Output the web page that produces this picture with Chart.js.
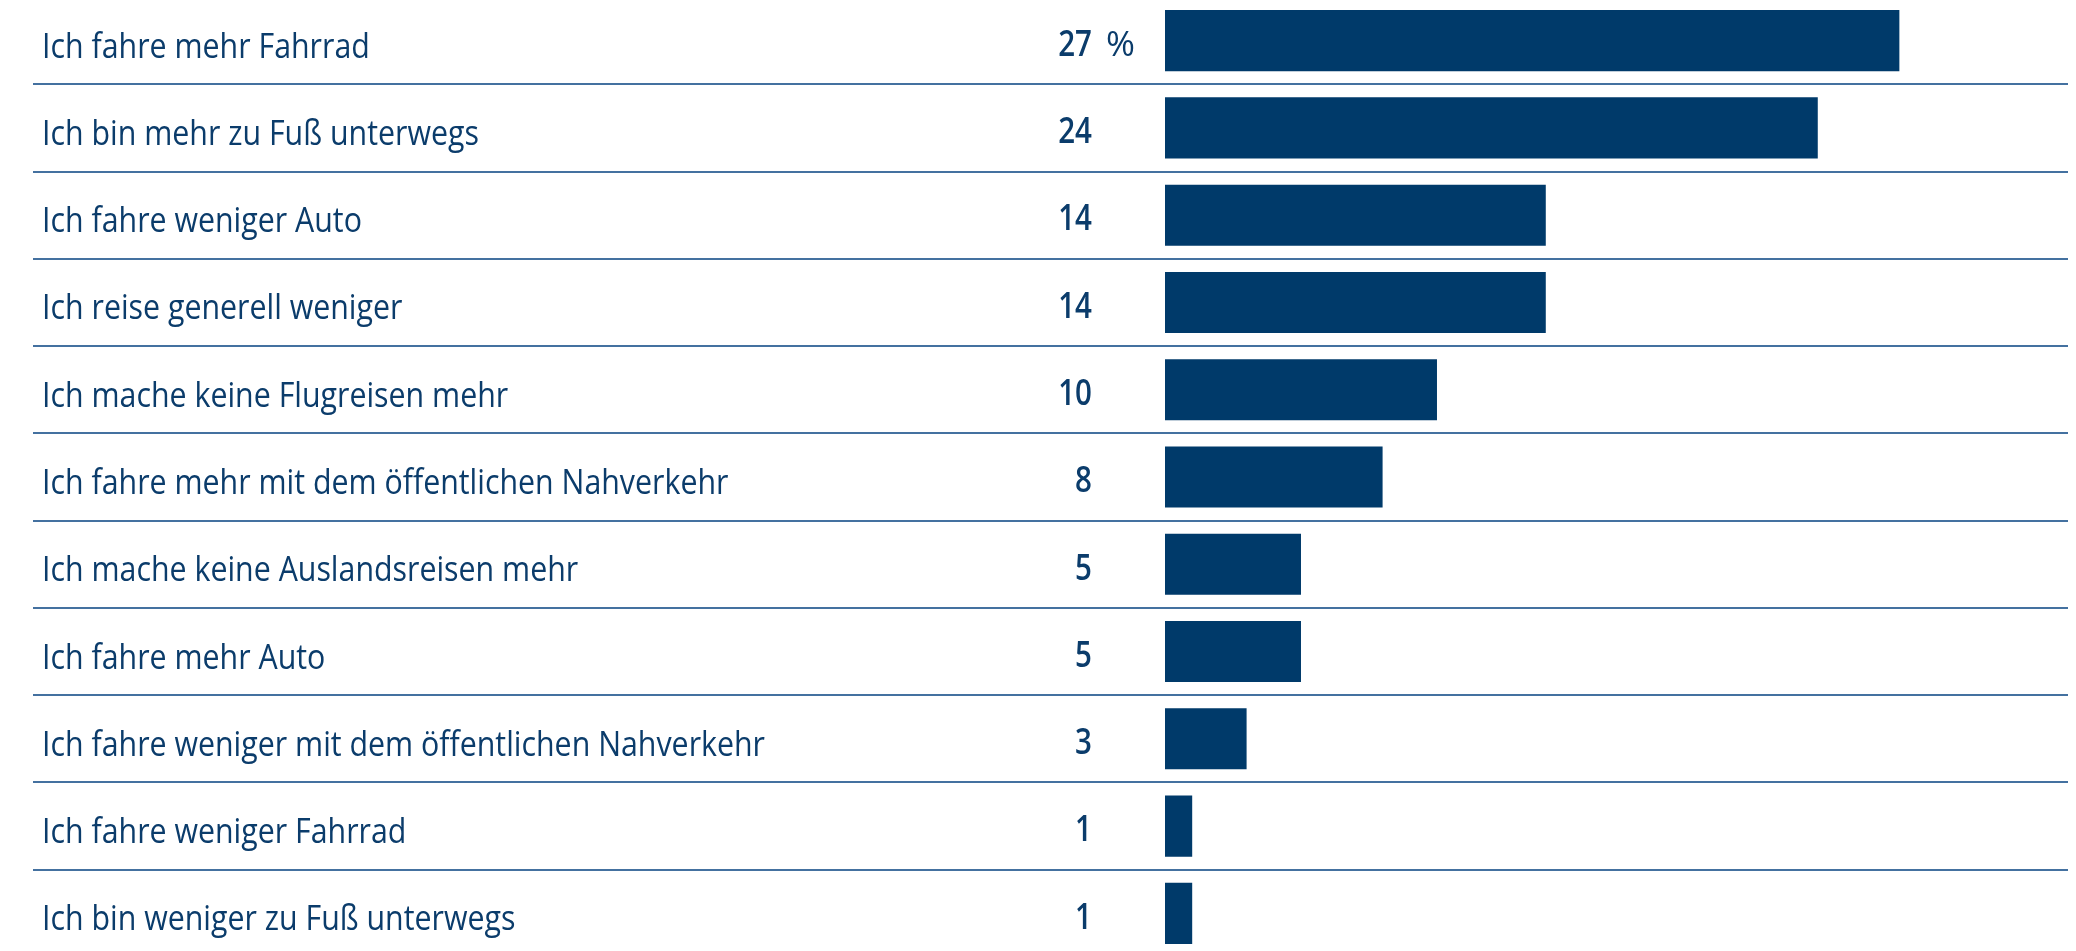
<!DOCTYPE html>
<html>
<head>
<meta charset="utf-8">
<script src="https://cdn.jsdelivr.net/npm/chart.js@4/dist/chart.umd.min.js"></script>
<style>
  html, body { margin: 0; padding: 0; background: #ffffff; overflow: hidden; width: 2076px; height: 951px; }
  #wrap { position: absolute; left: 0; top: -3px; width: 2076px; height: 960px; }
  canvas { display: block; }
</style>
</head>
<body>
<div id="wrap"><canvas id="c" width="2076" height="960"></canvas></div>
<script>
const categories = [
  "Ich fahre mehr Fahrrad",
  "Ich bin mehr zu Fuß unterwegs",
  "Ich fahre weniger Auto",
  "Ich reise generell weniger",
  "Ich mache keine Flugreisen mehr",
  "Ich fahre mehr mit dem öffentlichen Nahverkehr",
  "Ich mache keine Auslandsreisen mehr",
  "Ich fahre mehr Auto",
  "Ich fahre weniger mit dem öffentlichen Nahverkehr",
  "Ich fahre weniger Fahrrad",
  "Ich bin weniger zu Fuß unterwegs"
];
const values = [27, 24, 14, 14, 10, 8, 5, 5, 3, 1, 1];
const unitLabel = "%";

const FONT = "'Open Sans', 'Noto Sans', sans-serif";
const LABEL_SIZE = 35;
const VALUE_SIZE = 36;
const TEXT_COLOR = "#0b3c6b";
const BAR_COLOR = "#003a6a";
const LINE_COLOR = "#4471a0";
const LABEL_TARGET_WIDTH = 723;   // width of the longest label in the reference
const LABEL_LEFT = 42;

// horizontally condense text (reference uses a condensed typeface)
function labelScaleX(ctx) {
  ctx.save();
  ctx.font = LABEL_SIZE + "px " + FONT;
  let w = 0;
  categories.forEach(c => { w = Math.max(w, ctx.measureText(c).width); });
  ctx.restore();
  return LABEL_TARGET_WIDTH / w;
}

const condenseLabels = {
  id: 'condenseLabels',
  afterLayout(chart) {
    const scale = chart.scales.y;
    if (scale._condensed) return;
    scale._condensed = true;
    const orig = scale.drawLabels.bind(scale);
    scale.drawLabels = function (area) {
      const ctx = chart.ctx;
      const sx = labelScaleX(ctx);
      ctx.save();
      ctx.translate(LABEL_LEFT, 7);
      ctx.scale(sx, 1);
      ctx.translate(-LABEL_LEFT, 0);
      orig(area);
      ctx.restore();
    };
  }
};

const valueLabels = {
  id: 'valueLabels',
  afterDatasetsDraw(chart) {
    const ctx = chart.ctx;
    const meta = chart.getDatasetMeta(0);
    const xRight = chart.chartArea.left - 73;
    const sx = 0.82;
    ctx.save();
    ctx.fillStyle = TEXT_COLOR;
    ctx.textBaseline = 'middle';
    meta.data.forEach((bar, i) => {
      const y = bar.y + 5;
      ctx.save();
      ctx.translate(xRight, y);
      ctx.save();
      ctx.scale(sx, 1);
      ctx.font = "600 " + VALUE_SIZE + "px " + FONT;
      ctx.textAlign = 'right';
      ctx.fillText(String(values[i]), 0, 0);
      ctx.restore();
      if (i === 0) {
        ctx.font = "35px " + FONT;
        ctx.textAlign = 'left';
        ctx.fillText(unitLabel, 14, 0);
      }
      ctx.restore();
    });
    ctx.restore();
  }
};

new Chart(document.getElementById('c'), {
  type: 'bar',
  data: {
    labels: categories,
    datasets: [{
      data: values,
      backgroundColor: BAR_COLOR,
      borderWidth: 0,
      categoryPercentage: 1.0,
      barPercentage: 0.7
    }]
  },
  options: {
    indexAxis: 'y',
    responsive: false,
    animation: false,
    layout: { padding: { left: LABEL_LEFT, right: 8, top: 0, bottom: 0 } },
    plugins: { legend: { display: false }, tooltip: { enabled: false } },
    scales: {
      x: { display: false, min: 0, max: 33.2 },
      y: {
        afterFit(scale) {
          scale.width = 1165 - LABEL_LEFT;
          scale.paddingTop = 0;
          scale.paddingBottom = 0;
        },
        border: { display: false },
        grid: {
          offset: true,
          color: LINE_COLOR,
          lineWidth: 2,
          tickLength: 1132,
          drawTicks: true
        },
        ticks: {
          crossAlign: 'far',
          autoSkip: false,
          color: TEXT_COLOR,
          padding: 0,
          font: { family: FONT, size: LABEL_SIZE }
        }
      }
    }
  },
  plugins: [condenseLabels, valueLabels]
});
</script>
</body>
</html>
